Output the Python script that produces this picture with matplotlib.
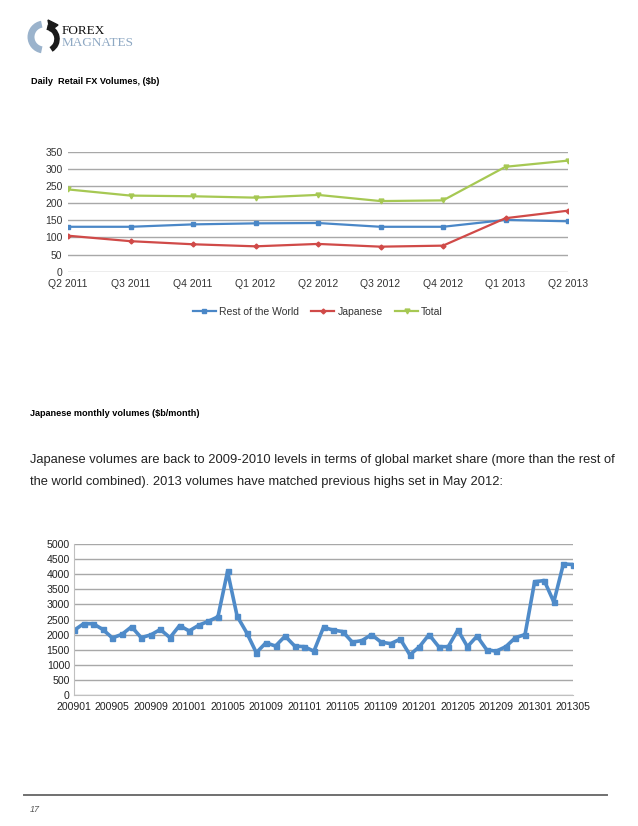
#!/usr/bin/env python3
# -*- coding: utf-8 -*-

#==============================================================================
#IMPORT
#==============================================================================

import numpy as np
import matplotlib
matplotlib.use('Agg')
import matplotlib.pyplot as plt
from matplotlib.patches import Arc, Polygon

#==============================================================================
#DATA
#==============================================================================

quarters = ['Q2 2011', 'Q3 2011', 'Q4 2011', 'Q1 2012', 'Q2 2012',
            'Q3 2012', 'Q4 2012', 'Q1 2013', 'Q2 2013']
rest_of_world = [131, 131, 138, 141, 142, 131, 131, 151, 147]
japanese = [105, 89, 80, 74, 81, 73, 76, 156, 178]
total = [240, 222, 220, 216, 224, 206, 208, 306, 324]

months = ['200901', '200902', '200903', '200904', '200905', '200906',
          '200907', '200908', '200909', '200910', '200911', '200912',
          '201001', '201002', '201003', '201004', '201005', '201006',
          '201007', '201008', '201009', '201010', '201011', '201012',
          '201101', '201102', '201103', '201104', '201105', '201106',
          '201107', '201108', '201109', '201110', '201111', '201112',
          '201201', '201202', '201203', '201204', '201205', '201206',
          '201207', '201208', '201209', '201210', '201211', '201212',
          '201301', '201302', '201303', '201304', '201305']
monthly = [2140, 2360, 2360, 2170, 1890, 2010, 2260, 1900, 1990, 2170, 1900, 2300,
           2120, 2310, 2440, 2590, 4090, 2610, 2060, 1400, 1730, 1620, 1950, 1620,
           1600, 1450, 2240, 2150, 2100, 1750, 1800, 2000, 1750, 1700, 1850, 1330,
           1600, 2000, 1600, 1600, 2150, 1600, 1950, 1500, 1450, 1600, 1900, 2000,
           3750, 3790, 3080, 4340, 4320]

#==============================================================================
#SETTINGS
#==============================================================================

plt.rcParams['font.family'] = ['Liberation Sans', 'DejaVu Sans']

W, H = 638, 826
tick_font = 7.5
grid_col = '#a8a8a8'

def box(left, top, right, bottom):
    #pixel box -> figure fraction
    return [left / W, 1 - bottom / H, (right - left) / W, (bottom - top) / H]

#==============================================================================
#PLOTTING
#==============================================================================

f = plt.figure(figsize=(W / 100, H / 100), dpi=100)

#page overlay (pixel coordinates)
page = f.add_axes([0, 0, 1, 1])
page.set_xlim(0, W)
page.set_ylim(H, 0)
page.axis('off')

#logo
page.add_patch(Arc((44, 37), 26, 26, theta1=100, theta2=260, lw=5, color='#9bb3cc'))
page.add_patch(Arc((45, 39), 24, 24, theta1=-80, theta2=60, lw=4, color='#1a1a1a'))
page.add_patch(Polygon([[48, 20], [58, 25], [50, 31]], closed=True, color='#1a1a1a'))
page.text(62, 31, 'FOREX', family='Liberation Serif', fontsize=9.5, va='center', color='#111111')
page.text(62, 43, 'MAGNATES', family='Liberation Serif', fontsize=9.5, va='center', color='#8ea8c3')

#headings and text
page.text(31, 81, 'Daily  Retail FX Volumes, ($b)', fontsize=6.6, weight='bold', va='center')
page.text(30, 413, 'Japanese monthly volumes ($b/month)', fontsize=6.6, weight='bold', va='center')
page.text(30, 460, 'Japanese volumes are back to 2009-2010 levels in terms of global market share '
          '(more than the rest of', fontsize=9.3, va='center', color='#222222')
page.text(30, 482, 'the world combined). 2013 volumes have matched previous highs set in May 2012:',
          fontsize=9.3, va='center', color='#222222')

#footer
page.plot([24, 607], [795, 795], color='#707070', lw=1.4)
page.text(30, 810, '17', fontsize=6.5, style='italic', va='center', color='#555555')

#top chart
ax1 = f.add_axes(box(68, 151.7, 568, 271.7))
x1 = np.arange(len(quarters))
ax1.plot(x1, rest_of_world, lw=1.6, color='#4a87c7', marker='s', ms=3.5, label='Rest of the World')
ax1.plot(x1, japanese, lw=1.6, color='#d04a48', marker='D', ms=2.5, label='Japanese')
ax1.plot(x1, total, lw=1.6, color='#a6c853', marker='v', ms=3.5, label='Total')
ax1.set_xlim(0, len(quarters) - 1)
ax1.set_ylim(0, 350)
ax1.set_yticks(np.arange(0, 351, 50))
ax1.set_xticks(x1)
ax1.set_xticklabels(quarters)
ax1.tick_params(labelsize=tick_font, length=0, colors='#333333')
ax1.tick_params(axis='x', pad=5)
ax1.tick_params(axis='y', pad=4)
for s in ['left', 'right', 'top', 'bottom']:
    ax1.spines[s].set_visible(False)
ax1.yaxis.grid(color=grid_col, linewidth=1)
ax1.set_axisbelow(True)

handles, labels = ax1.get_legend_handles_labels()
f.legend(handles, labels, loc='center', bbox_to_anchor=(318 / W, 1 - 312 / H), ncol=3,
         frameon=False, fontsize=tick_font, handlelength=2.2, handletextpad=0.3,
         columnspacing=1.2, labelcolor='#333333')

#bottom chart
ax2 = f.add_axes(box(74, 544, 573, 695))
x2 = np.arange(len(months))
ax2.plot(x2, monthly, lw=2.6, color='#4f8bc9', marker='s', ms=3.6)
ax2.set_xlim(0, len(months) - 1)
ax2.set_ylim(0, 5000)
ax2.set_yticks(np.arange(0, 5001, 500))
ax2.set_xticks(x2[::4])
ax2.set_xticklabels(months[::4])
ax2.tick_params(labelsize=7.6, length=0, colors='#222222')
ax2.tick_params(axis='x', pad=5)
ax2.tick_params(axis='y', pad=3)
for s in ['right', 'top']:
    ax2.spines[s].set_visible(False)
ax2.spines['left'].set_color('#c0c0c0')
ax2.spines['bottom'].set_color('#c0c0c0')
ax2.yaxis.grid(color=grid_col, linewidth=1)
ax2.set_axisbelow(True)

#save figure
f.savefig('out.png', dpi=100)
